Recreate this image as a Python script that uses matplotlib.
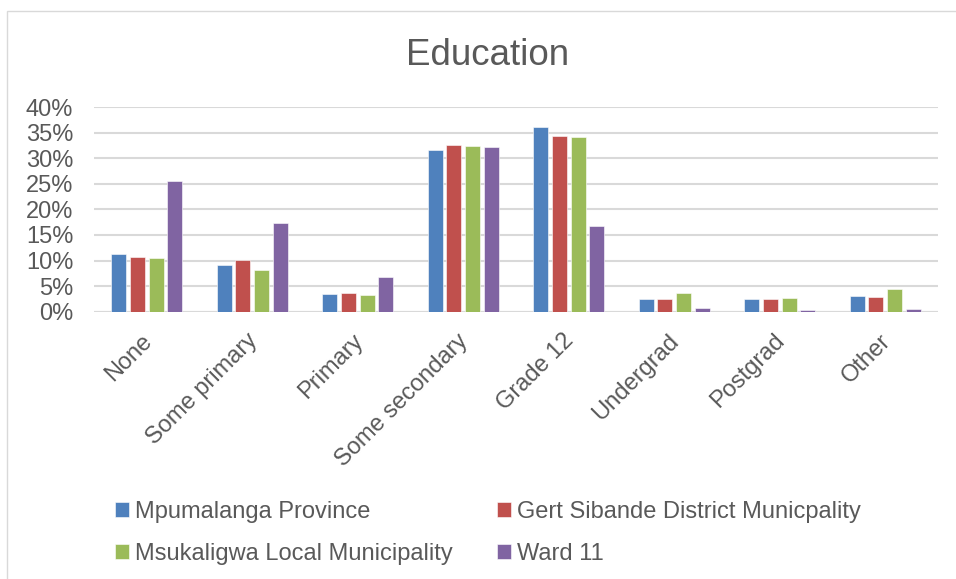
import matplotlib.pyplot as plt
import numpy as np
from matplotlib.patches import Rectangle
from matplotlib.ticker import PercentFormatter
from matplotlib.transforms import ScaledTranslation

plt.rcParams['font.family'] = ['Liberation Sans', 'DejaVu Sans']

categories = ["None", "Some primary", "Primary", "Some secondary",
              "Grade 12", "Undergrad", "Postgrad", "Other"]

series_names = ["Mpumalanga Province", "Gert Sibande District Municpality",
                "Msukaligwa Local Municipality", "Ward 11"]

# values in percent
mpumalanga = [11.2, 9.1, 3.5, 31.6, 36.1, 2.5, 2.5, 3.0]
gert_sibande = [10.7, 10.2, 3.7, 32.6, 34.3, 2.5, 2.5, 2.9]
msukaligwa = [10.5, 8.2, 3.3, 32.4, 34.1, 3.7, 2.7, 4.4]
ward_11 = [25.5, 17.3, 6.7, 32.2, 16.7, 0.65, 0.3, 0.5]

colors = ["#4F81BD", "#C0504D", "#9BBB59", "#8064A2"]
text_col = "#595959"
grid_col = "#D9D9D9"

fig = plt.figure(figsize=(9.56, 5.79), dpi=100)

# chart border
fig.patches.append(Rectangle((7 / 956, -0.05), 1.0, 1 - 11 / 579 + 0.05,
                             transform=fig.transFigure, fill=False,
                             edgecolor=grid_col, linewidth=1.0))

ax = fig.add_axes([94 / 956, 1 - 311.7 / 579, 844 / 956, 204.6 / 579])

x = np.arange(len(categories))
step = 0.177
width = 0.142
bars = []
for i, vals in enumerate([mpumalanga, gert_sibande, msukaligwa, ward_11]):
    b = ax.bar(x + (i - 1.5) * step, vals, width, color=colors[i],
               edgecolor="white", linewidth=0.4, label=series_names[i], zorder=3)
    bars.append(b)

ax.set_xlim(-0.5, len(categories) - 0.5)
ax.set_ylim(0, 40)
ax.set_yticks(np.arange(0, 41, 5))
ax.yaxis.set_major_formatter(PercentFormatter(decimals=0))
ax.grid(axis="y", color=grid_col, linewidth=1.5, zorder=0)
for s in ax.spines.values():
    s.set_visible(False)
ax.axhline(0, color=grid_col, linewidth=1.5, zorder=2)

ax.set_xticks(x)
ax.set_xticklabels(categories, rotation=45, ha="right", rotation_mode="anchor",
                   fontsize=17, color=text_col)
ax.tick_params(axis="both", length=0, labelsize=17, labelcolor=text_col)
ax.tick_params(axis="x", pad=13)
ax.tick_params(axis="y", pad=15)
shift = ScaledTranslation(-6 / 100, 0, fig.dpi_scale_trans)
for lab in ax.get_xticklabels():
    lab.set_transform(lab.get_transform() + shift)

fig.text(488 / 956, 1 - 65 / 579, "Education", ha="center", va="baseline",
         fontsize=26.5, color=text_col)

order = [0, 2, 1, 3]
fig.legend([bars[k] for k in order], [series_names[k] for k in order],
           ncol=2, loc="upper left", bbox_to_anchor=(115 / 956, 1 - 501 / 579),
           frameon=False, fontsize=17, labelcolor=text_col,
           handlelength=0.6, handleheight=0.6, handletextpad=0.25,
           columnspacing=1.85, labelspacing=0.85, borderaxespad=0, borderpad=0)

fig.savefig("out.png", dpi=100)
